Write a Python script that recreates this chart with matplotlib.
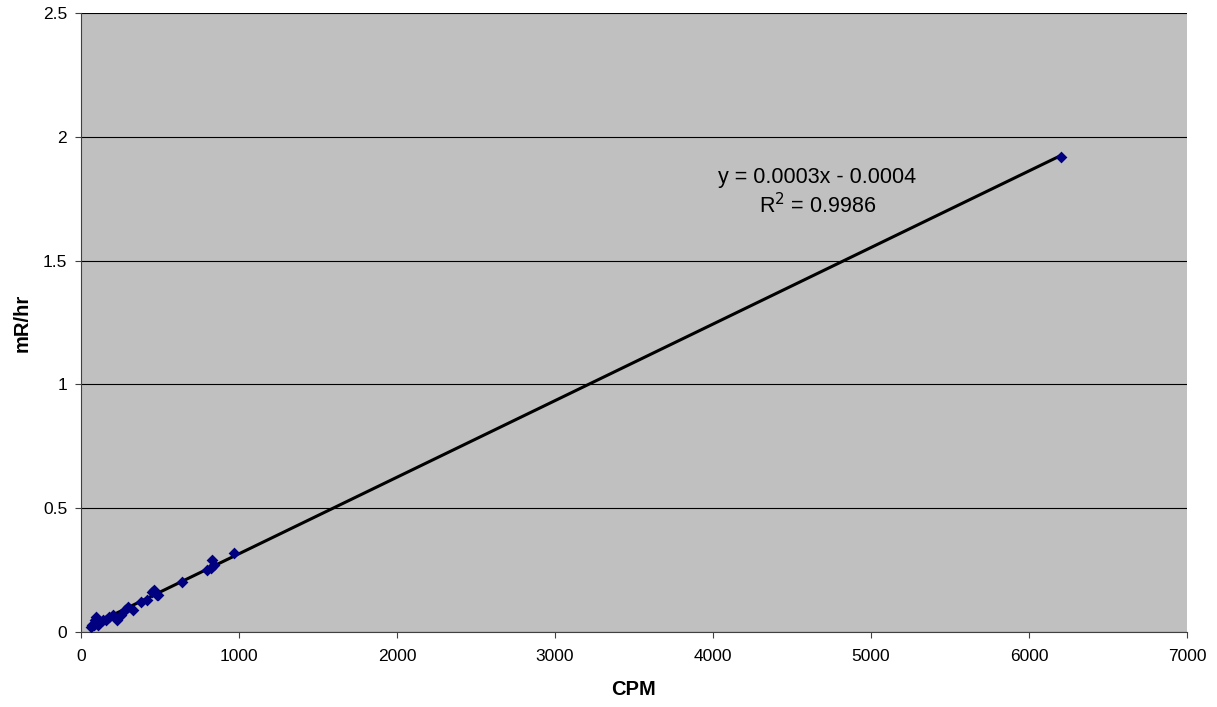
import numpy as np
import matplotlib.pyplot as plt

plt.rcParams["font.family"] = ["Liberation Sans", "DejaVu Sans"]

cpm = [60, 70, 80, 90, 95, 100, 110, 120, 140, 160, 180, 200, 230, 250, 280, 300,
       330, 380, 420, 450, 460, 470, 480, 490, 640, 800, 820, 830, 840, 970, 6200]
mrhr = [0.02, 0.03, 0.03, 0.05, 0.06, 0.04, 0.03, 0.04, 0.05, 0.05, 0.06, 0.07, 0.05,
        0.07, 0.09, 0.10, 0.09, 0.12, 0.13, 0.16, 0.17, 0.16, 0.15, 0.15, 0.20, 0.25,
        0.26, 0.29, 0.27, 0.32, 1.92]
eq_text = "y = 0.0003x - 0.0004"
r2_text = "R$^2$ = 0.9986"

x = np.array(cpm)
y = np.array(mrhr)
slope, intercept = np.polyfit(x, y, 1)
xl = np.array([x.min(), x.max()])

fig = plt.figure(figsize=(12.17, 7.07), dpi=100)
ax = fig.add_axes([0.0666, 0.1061, 0.9087, 0.8755])
ax.set_facecolor("#C0C0C0")

ax.plot(xl, slope * xl + intercept, color="black", lw=2.2, zorder=2)
ax.scatter(x, y, marker="D", s=36, color="#000080", zorder=3, linewidths=0)

ax.set_xlim(0, 7000)
ax.set_ylim(0, 2.5)
ax.set_xticks(np.arange(0, 7001, 1000))
ax.set_yticks([0, 0.5, 1, 1.5, 2, 2.5])
ax.set_yticklabels(["0", "0.5", "1", "1.5", "2", "2.5"])
ax.yaxis.grid(True, color="black", lw=0.8)
ax.set_axisbelow(True)
for s in ["top", "right"]:
    ax.spines[s].set_visible(False)
for s in ["left", "bottom"]:
    ax.spines[s].set_color("#404040")
ax.tick_params(direction="out", length=4, labelsize=12.5, color="#404040")
ax.tick_params(axis="x", pad=8)
ax.tick_params(axis="y", pad=6)

ax.set_xlabel("CPM", fontsize=14.5, fontweight="bold", labelpad=12)
ax.set_ylabel("mR/hr", fontsize=14.5, fontweight="bold", labelpad=8)

ax.text(4660, 1.813, eq_text, fontsize=15.5, ha="center", va="baseline")
ax.text(4660, 1.692, r2_text, fontsize=15.5, ha="center", va="baseline")

fig.savefig("out.png", dpi=100)
